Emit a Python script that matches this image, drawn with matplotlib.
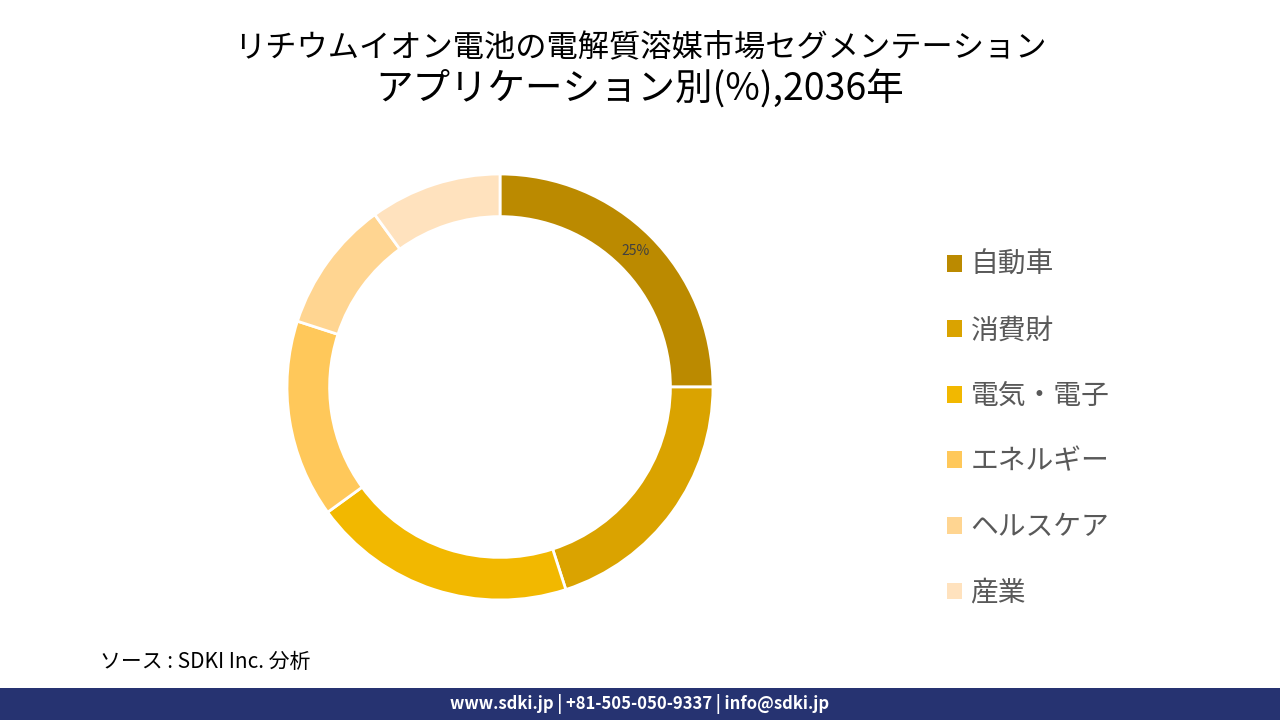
import matplotlib
matplotlib.use("Agg")
from matplotlib import pyplot as plt
from matplotlib.patches import Rectangle, Patch

plt.rcParams['font.family'] = ['Noto Sans CJK JP', 'DejaVu Sans']

# データ
categories = ["自動車", "消費財", "電気・電子", "エネルギー", "ヘルスケア", "産業"]
shares = [25, 20, 20, 15, 10, 10]
colors = ["#BB8A00", "#DAA300", "#F2B800", "#FFC85A", "#FFD591", "#FFE2BE"]

fig = plt.figure(figsize=(12.8, 7.2), dpi=100)
fig.patch.set_facecolor("white")

# ドーナツ
ax = fig.add_axes([287 / 1280, 120 / 720, 426 / 1280, 426 / 720])
wedges, texts, autotexts = ax.pie(
    shares, colors=colors, startangle=90, counterclock=False,
    radius=1.0, wedgeprops=dict(width=0.2, edgecolor="white", linewidth=2),
    autopct=lambda p: f"{p:.0f}%" if p >= 24.5 else "", pctdistance=0.9,
    textprops=dict(fontsize=10, color="#404040"))
ax.set_aspect("equal")
ax.set_xlim(-1, 1)
ax.set_ylim(-1, 1)

# 凡例
handles = [Patch(facecolor=c, edgecolor="none") for c in colors]
fig.legend(handles, categories, loc="upper left", bbox_to_anchor=(922 / 1280, 1 - 225 / 720),
           frameon=False, fontsize=20, labelcolor="#595959", labelspacing=1.28,
           handlelength=0.55, handleheight=0.55, handletextpad=0.3)

# タイトル
fig.text(0.5, 1 - 47 / 720, "リチウムイオン電池の電解質溶媒市場セグメンテーション",
         ha="center", va="center", fontsize=22.5, color="black")
fig.text(0.5, 1 - 90 / 720, "アプリケーション別(%),2036年",
         ha="center", va="center", fontsize=27, color="black")

# ソース
fig.text(100 / 1280, 1 - 662 / 720, "ソース : SDKI Inc. 分析", ha="left", va="center",
         fontsize=15, style="italic", color="black")

# フッター
fig.patches.append(Rectangle((0, 0), 1, 32 / 720, transform=fig.transFigure,
                             facecolor="#263371", edgecolor="none"))
fig.text(0.5, 16 / 720, "www.sdki.jp | +81-505-050-9337 | info@sdki.jp", ha="center", va="center",
         fontsize=12, fontweight="bold", color="white")

plt.savefig("out.png", dpi=100)
